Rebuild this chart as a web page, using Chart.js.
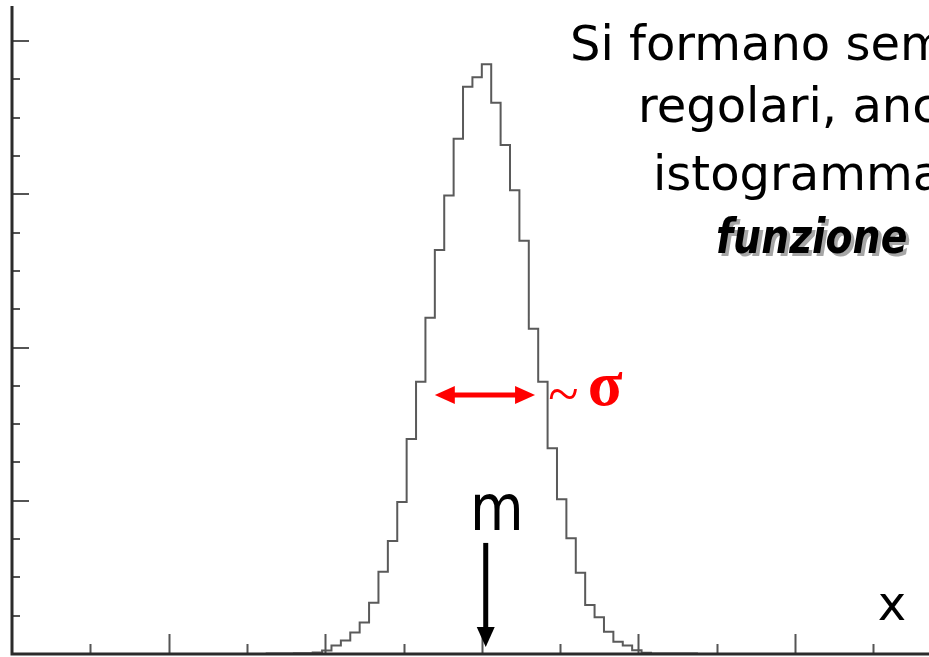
<!DOCTYPE html>
<html>
<head>
<meta charset="utf-8">
<script src="https://cdn.jsdelivr.net/npm/chart.js@4.4.1/dist/chart.umd.min.js"></script>
<style>
html,body{margin:0;padding:0;background:#ffffff;overflow:hidden;}
#wrap{width:929px;height:657px;position:relative;}
</style>
</head>
<body>
<div id="wrap"><canvas id="c" width="929" height="657"></canvas></div>
<script>
// ---- data (x in axis-tick units, y in minor-tick units) ----
const binLeftEdges = [3.24, 3.36, 3.48, 3.60, 3.72, 3.84, 3.96, 4.08, 4.20, 4.32, 4.44, 4.56,
  4.68, 4.80, 4.92, 5.04, 5.16, 5.28, 5.40, 5.52, 5.64, 5.76, 5.88, 6.00, 6.12, 6.24, 6.36,
  6.48, 6.60, 6.72, 6.84, 6.96, 7.08, 7.20, 7.32, 7.44, 7.56, 7.68, 7.80, 7.92, 8.04, 8.16,
  8.28, 8.40, 8.52, 8.64];
const binRightEdge = 8.76;
const binCounts = [0.01, 0.01, 0.01, 0.02, 0.02, 0.04, 0.09, 0.22, 0.35, 0.56, 0.82, 1.34,
  2.15, 2.95, 3.97, 5.61, 7.11, 8.78, 10.55, 11.97, 13.45, 14.81, 15.06, 15.40, 14.39, 13.29, 12.11,
  10.79, 8.49, 7.11, 5.37, 4.04, 3.02, 2.12, 1.28, 0.96, 0.58, 0.32, 0.22, 0.10, 0.03, 0.01,
  0.01, 0.01, 0.01, 0.01];
const xMajorTicks = [2, 4, 6, 8, 10];
const xMinorTicks = [1, 3, 5, 7, 9, 11];
const yMajorTicks = [4, 8, 12, 16];
const yMinorTicks = [1, 2, 3, 5, 6, 7, 9, 10, 11, 13, 14, 15];
const xRange = [0, 11.711];
const yRange = [0, 16.97];
const meanX = 6.05;
const meanArrowY = [2.90, 0.18];
const meanLabel = 'm';
const meanLabelPos = [6.19, 3.24];
const sigmaArrowX = [5.40, 6.68];
const sigmaArrowY = 6.76;
const sigmaLabel = 'σ';
const sigmaLabelPos = [7.38, 6.50];
const tildeLabel = '~';
const tildePos = [6.85, 6.28];
const axisLabel = 'x';
const axisLabelPos = [11.07, 0.89];
const textLines = ['Si formano sempre', 'regolari, anche', 'istogramma', 'funzione'];

const points = binLeftEdges.map((x, i) => ({x: x, y: binCounts[i]}));
points.push({x: binRightEdge, y: binCounts[binCounts.length - 1]});

const axesPlugin = {
  id: 'axesPlugin',
  afterDatasetsDraw(chart) {
    const ctx = chart.ctx, xs = chart.scales.x, ys = chart.scales.y;
    const x0 = xs.getPixelForValue(0), y0 = ys.getPixelForValue(0);
    ctx.save();
    ctx.strokeStyle = '#555';
    ctx.lineWidth = 2;
    ctx.beginPath();
    xMajorTicks.forEach(v => { const p = Math.round(xs.getPixelForValue(v)) + 0.5; ctx.moveTo(p, y0); ctx.lineTo(p, y0 - 20); });
    xMinorTicks.forEach(v => { const p = Math.round(xs.getPixelForValue(v)) + 0.5; ctx.moveTo(p, y0); ctx.lineTo(p, y0 - 10); });
    yMajorTicks.forEach(v => { const p = Math.round(ys.getPixelForValue(v)); ctx.moveTo(x0, p); ctx.lineTo(x0 + 17, p); });
    yMinorTicks.forEach(v => { const p = Math.round(ys.getPixelForValue(v)); ctx.moveTo(x0, p); ctx.lineTo(x0 + 8, p); });
    ctx.stroke();
    ctx.strokeStyle = '#2b2b2b';
    ctx.lineWidth = 3;
    ctx.beginPath();
    ctx.moveTo(x0, chart.chartArea.top + 2);
    ctx.lineTo(x0, y0);
    ctx.lineTo(chart.width, y0);
    ctx.stroke();
    ctx.restore();
  }
};

const annotationPlugin = {
  id: 'annotationPlugin',
  afterDraw(chart) {
    const ctx = chart.ctx, xs = chart.scales.x, ys = chart.scales.y;
    ctx.save();
    // mean arrow
    const mx = xs.getPixelForValue(meanX);
    const mTop = ys.getPixelForValue(meanArrowY[0]);
    const mTip = ys.getPixelForValue(meanArrowY[1]);
    ctx.strokeStyle = '#000';
    ctx.fillStyle = '#000';
    ctx.lineWidth = 5;
    ctx.beginPath(); ctx.moveTo(mx, mTop); ctx.lineTo(mx, mTip - 18); ctx.stroke();
    ctx.beginPath(); ctx.moveTo(mx - 9, mTip - 20); ctx.lineTo(mx + 9, mTip - 20); ctx.lineTo(mx, mTip); ctx.closePath(); ctx.fill();
    // sigma arrow
    const sx1 = xs.getPixelForValue(sigmaArrowX[0]);
    const sx2 = xs.getPixelForValue(sigmaArrowX[1]);
    const sy = ys.getPixelForValue(sigmaArrowY);
    ctx.strokeStyle = '#ff0000';
    ctx.fillStyle = '#ff0000';
    ctx.lineWidth = 5;
    ctx.beginPath(); ctx.moveTo(sx1 + 16, sy); ctx.lineTo(sx2 - 16, sy); ctx.stroke();
    ctx.beginPath(); ctx.moveTo(sx1, sy); ctx.lineTo(sx1 + 20, sy - 9); ctx.lineTo(sx1 + 20, sy + 9); ctx.closePath(); ctx.fill();
    ctx.beginPath(); ctx.moveTo(sx2, sy); ctx.lineTo(sx2 - 20, sy - 9); ctx.lineTo(sx2 - 20, sy + 9); ctx.closePath(); ctx.fill();
    // sigma label
    ctx.textBaseline = 'alphabetic';
    ctx.textAlign = 'left';
    ctx.font = 'bold 64px "Liberation Serif"';
    ctx.fillText(sigmaLabel, xs.getPixelForValue(sigmaLabelPos[0]) - 2, ys.getPixelForValue(sigmaLabelPos[1]));
    ctx.font = '56px "Liberation Serif"';
    ctx.fillText(tildeLabel, xs.getPixelForValue(tildePos[0]), ys.getPixelForValue(tildePos[1]));
    // m label
    ctx.fillStyle = '#000';
    ctx.font = '64px "DejaVu Sans"';
    ctx.save();
    ctx.translate(xs.getPixelForValue(meanLabelPos[0]), ys.getPixelForValue(meanLabelPos[1]));
    ctx.scale(0.86, 1);
    ctx.textAlign = 'center';
    ctx.fillText(meanLabel, 0, 0);
    ctx.restore();
    // x label
    ctx.font = '48px "DejaVu Sans"';
    ctx.textAlign = 'left';
    ctx.fillText(axisLabel, xs.getPixelForValue(axisLabelPos[0]) - 1, ys.getPixelForValue(axisLabelPos[1]));
    // slide text
    ctx.font = '48px "DejaVu Sans"';
    ctx.fillText(textLines[0], 570, 60);
    ctx.fillText(textLines[1], 638, 122);
    ctx.fillText(textLines[2], 653, 190);
    ctx.font = 'italic bold 48px "DejaVu Sans"';
    ctx.save();
    ctx.translate(716, 253);
    ctx.scale(0.82, 1);
    ctx.fillStyle = '#a6a6a6';
    ctx.fillText(textLines[3], 4, 3);
    ctx.fillStyle = '#000';
    ctx.fillText(textLines[3], 0, 0);
    ctx.restore();
    ctx.restore();
  }
};

new Chart(document.getElementById('c').getContext('2d'), {
  type: 'line',
  data: {
    datasets: [{
      data: points,
      stepped: 'before',
      borderColor: '#5a5a5a',
      borderWidth: 2,
      pointRadius: 0,
      fill: false,
      tension: 0
    }]
  },
  options: {
    responsive: false,
    animation: false,
    devicePixelRatio: 1,
    events: [],
    layout: {padding: {left: 12, top: 4, right: 0, bottom: 3}},
    plugins: {legend: {display: false}, tooltip: {enabled: false}, title: {display: false}},
    scales: {
      x: {type: 'linear', min: xRange[0], max: xRange[1], display: false},
      y: {type: 'linear', min: yRange[0], max: yRange[1], display: false}
    }
  },
  plugins: [axesPlugin, annotationPlugin]
});
</script>
</body>
</html>
